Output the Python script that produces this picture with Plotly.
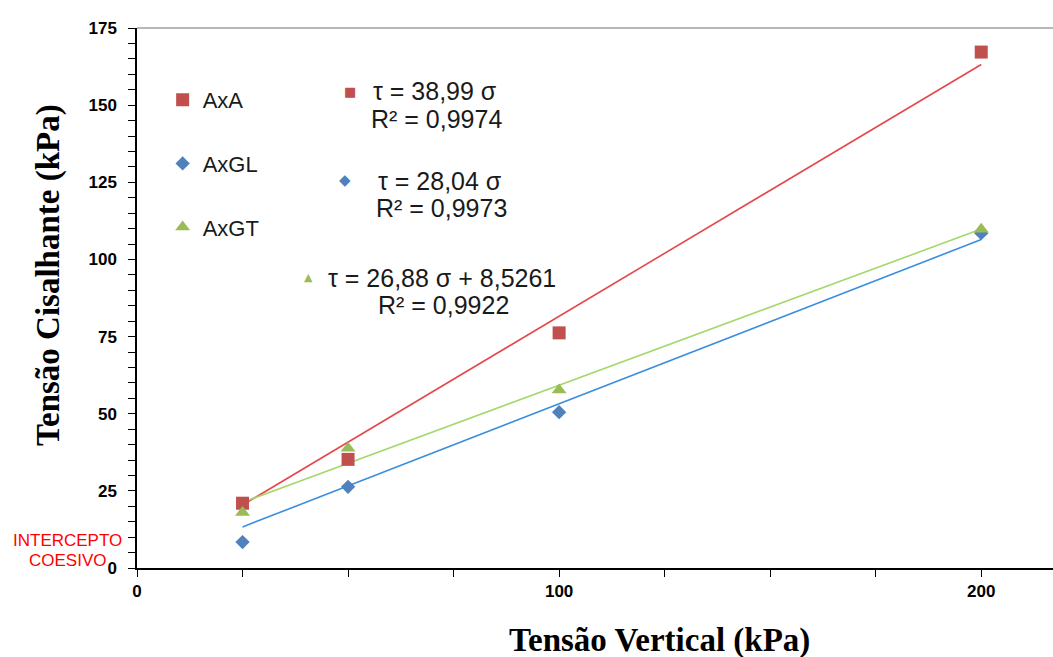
import numpy as np
import plotly.graph_objects as go

# ---- data ----
sigma = [25, 50, 100, 200]
series_names = ["AxA", "AxGL", "AxGT"]
tau_AxA = [21.0, 35.2, 76.2, 167.2]
tau_AxGL = [8.4, 26.3, 50.5, 108.5]
tau_AxGT = [18.0, 38.8, 57.7, 109.8]
eq_line1 = ["τ = 38,99 σ", "τ = 28,04 σ", "τ = 26,88 σ + 8,5261"]
eq_line2 = ["R² = 0,9974", "R² = 0,9973", "R² = 0,9922"]
x_tick_vals = [0, 100, 200]
y_tick_vals = [0, 25, 50, 75, 100, 125, 150, 175]
x_title = "Tensão Vertical (kPa)"
y_title = "Tensão Cisalhante (kPa)"
intercept_lines = ["INTERCEPTO", "COESIVO"]

marker_colors = ["#c0504d", "#4f81bd", "#9bbb59"]
line_colors = ["#e5474b", "#3a8fdc", "#a4d86a"]
symbols = ["square", "diamond", "triangle-up"]
msizes = [13, 11, 13]

x = np.array(sigma, dtype=float)
ys = [np.array(tau_AxA), np.array(tau_AxGL), np.array(tau_AxGT)]

fig = go.Figure()

# trend lines (least squares: through origin for AxA and AxGL, with intercept for AxGT)
xs_fit = np.array([x.min(), x.max()])
fits = []
for i, y in enumerate(ys):
    if i < 2:
        slope = (x * y).sum() / (x * x).sum()
        fits.append(slope * xs_fit)
    else:
        m, b = np.polyfit(x, y, 1)
        fits.append(m * xs_fit + b)

for i, name in enumerate(series_names):
    fig.add_trace(go.Scatter(
        x=xs_fit, y=fits[i], mode="lines",
        line=dict(color=line_colors[i], width=1.6),
        showlegend=False, hoverinfo="skip"))

for i, name in enumerate(series_names):
    fig.add_trace(go.Scatter(
        x=sigma, y=ys[i], mode="markers", name=name,
        legendgroup=name,
        marker=dict(symbol=symbols[i], size=msizes[i], color=marker_colors[i])))

W, H = 1053, 657
L, T, B = 137, 28, 89
pw, ph = W - L, H - T - B


def px(xp):
    return (xp - L) / pw


def py(yp):
    return 1 - (yp - T) / ph


def ann(xp, yp, text, size, color="#1a1a1a", family="Liberation Sans, Arial", angle=0):
    fig.add_annotation(x=px(xp), y=py(yp), xref="paper", yref="paper", text=text,
                       showarrow=False, xanchor="center", yanchor="middle",
                       textangle=angle, font=dict(family=family, size=size, color=color))


# equation annotations
l1_pos = [(435, 91), (440, 181), (442, 278)]
l2_pos = [(436, 119), (441, 208), (443, 305)]
sym_pos = [(350, 91), (345, 180), (308, 277)]
sym_chars = ["■", "◆", "▲"]
sym_sizes = [13, 15, 11]
for i in range(3):
    ann(*l1_pos[i], eq_line1[i], 25)
    ann(*l2_pos[i], eq_line2[i], 25)
    ann(*sym_pos[i], sym_chars[i], sym_sizes[i], color=marker_colors[i], family="DejaVu Sans")

# intercept label
ann(67, 540, intercept_lines[0], 17, color="#ff0000")
ann(67, 560, intercept_lines[1], 17, color="#ff0000")

# axis titles
ann(659, 640, "<b>" + x_title + "</b>", 33, color="black", family="Liberation Serif, Times New Roman")
ann(48, 275, "<b>" + y_title + "</b>", 33, color="black", family="Liberation Serif, Times New Roman", angle=-90)

# top border line
fig.add_shape(type="line", xref="paper", yref="paper", x0=0, x1=1, y0=1, y1=1,
              line=dict(color="#a0a0a0", width=1.5))

fig.update_layout(
    width=W, height=H,
    margin=dict(l=L, r=0, t=T, b=B),
    paper_bgcolor="white", plot_bgcolor="white",
    showlegend=True,
    legend=dict(x=0.028, y=0.9056, xanchor="left", yanchor="top",
                font=dict(family="Liberation Sans, Arial", size=22, color="#1a1a1a"),
                tracegroupgap=32, bgcolor="rgba(0,0,0,0)"),
    xaxis=dict(range=[0, 217], tickvals=x_tick_vals, showgrid=False, zeroline=False,
               showline=True, linecolor="black", linewidth=1.5,
               ticks="outside", ticklen=7, tickcolor="black",
               minor=dict(dtick=25, tick0=0, ticks="outside", ticklen=7, tickcolor="black"),
               tickfont=dict(family="Liberation Sans, Arial", size=17, color="black", weight="bold")),
    yaxis=dict(range=[0, 175], tickvals=y_tick_vals, showgrid=False, zeroline=False,
               showline=True, linecolor="black", linewidth=1.5,
               ticks="outside", ticklen=7, tickcolor="black", ticklabelstandoff=8,
               minor=dict(dtick=5, tick0=0, ticks="outside", ticklen=7, tickcolor="black"),
               tickfont=dict(family="Liberation Sans, Arial", size=17, color="black", weight="bold")),
)

fig.write_html("out.html")
